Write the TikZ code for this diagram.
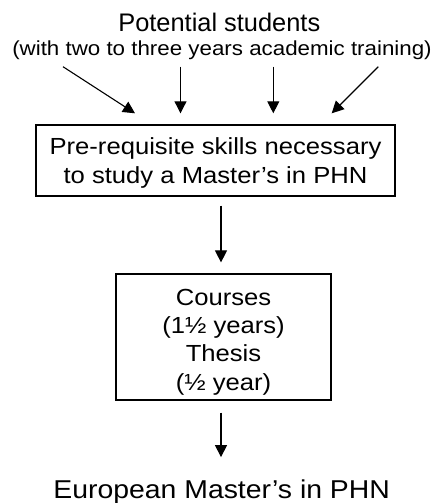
\documentclass[tikz,border=0pt]{standalone}
\usepackage{fontspec}
\setmainfont{Liberation Sans}[FakeStretch=1.1]
\newfontfamily\titlefont{Liberation Sans}
\usetikzlibrary{arrows.meta}
\begin{document}
\begin{tikzpicture}[x=1pt,y=-1pt,
  boxstyle/.style={draw,line width=1.2pt,inner sep=0pt,align=center,
    font=\fontsize{23.3}{28.3}\selectfont},
  arr/.style={line width=1.1pt,-{Triangle[length=12pt,width=12pt]}}]
\useasboundingbox (0,0) rectangle (439,503);
\node[anchor=base,inner sep=0pt,font=\titlefont\fontsize{25.4}{30}\selectfont] (title) at (219.3,31.7) {Potential students};
\node[anchor=base,inner sep=0pt,font=\fontsize{20.3}{24}\selectfont] (sub) at (222,56) {(with two to three years academic training)};
\node[boxstyle,minimum width=359pt,minimum height=71pt] (box1) at (215.5,160.5)
  {\rule{0pt}{22pt}Pre-requisite skills necessary\\to study a Master’s in PHN};
\node[boxstyle,minimum width=215pt,minimum height=126pt] (box2) at (223.5,337)
  {\rule{0pt}{26pt}Courses\\(1½ years)\\Thesis\\(½ year)};
\node[anchor=base,inner sep=0pt,font=\fontsize{25.8}{30}\selectfont] (master) at (221.7,498) {European Master’s in PHN};
\coordinate (s1) at (63,66.7);
\coordinate (t1) at (135,113.3);
\coordinate (s2) at (180.5,66.7);
\coordinate (t2) at (180.5,113.3);
\coordinate (s3) at (273.3,66.7);
\coordinate (t3) at (273.3,113.3);
\coordinate (s4) at (378.3,66.7);
\coordinate (t4) at (331.7,113.3);
\coordinate (ax) at (221,0);
\draw[arr] (s1) -- (t1);
\draw[arr] (s2) -- (t2);
\draw[arr] (s3) -- (t3);
\draw[arr] (s4) -- (t4);
\draw[arr,shorten <=9pt,shorten >=11pt] (box1.south -| ax) -- (box2.north -| ax);
\draw[arr,shorten <=12pt,shorten >=22pt] (box2.south -| ax) -- (master.north -| ax);
\end{tikzpicture}
\end{document}
